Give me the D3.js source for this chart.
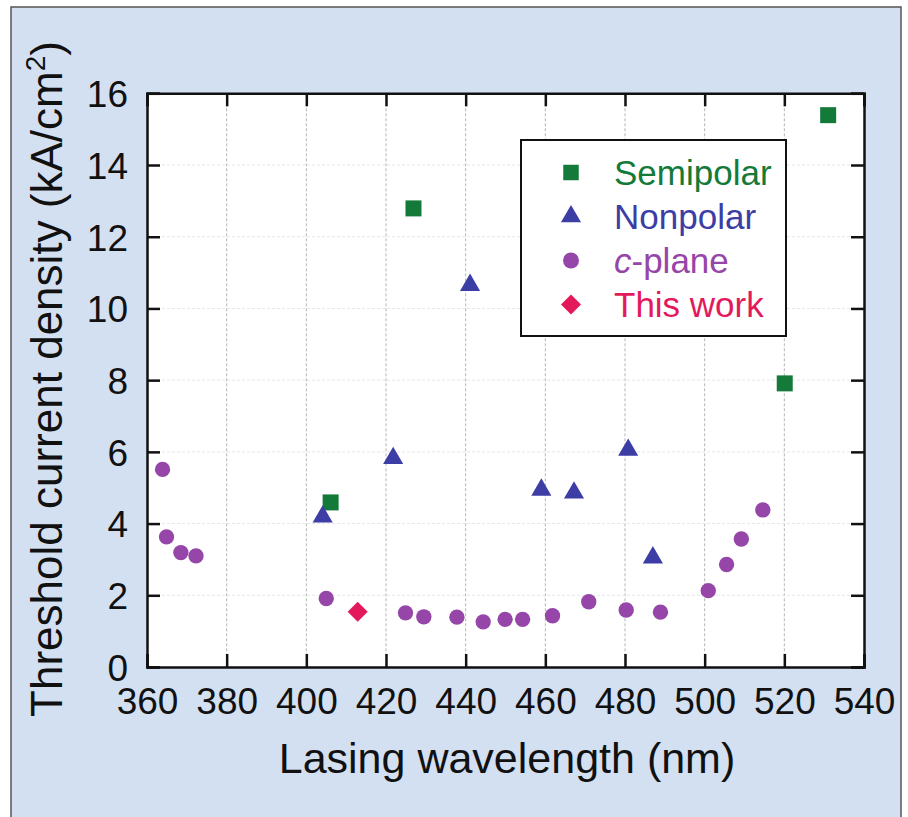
<!DOCTYPE html>
<html><head><meta charset="utf-8">
<script src="https://cdn.jsdelivr.net/npm/d3@7"></script>
<style>
html,body{margin:0;padding:0;background:#fff;}
svg{display:block;font-family:"Liberation Sans",Arial,sans-serif;}
</style></head>
<body><svg id="chart" width="908" height="817"></svg>
<script>
// ---- data ----
const xTicks = [360,380,400,420,440,460,480,500,520,540];
const yTicks = [0,2,4,6,8,10,12,14,16];
const semipolarX = [406.1, 426.9, 520.1, 531.0];
const semipolarY = [4.59, 12.79, 7.91, 15.39];
const nonpolarX = [404.1, 421.8, 441.1, 459.0, 467.2, 480.8, 487.0];
const nonpolarY = [4.19, 5.82, 10.65, 4.94, 4.86, 6.05, 3.05];
const cplaneX = [363.9, 364.9, 368.5, 372.3, 405.0, 424.9, 429.5, 437.8, 444.4, 449.9, 454.3, 461.8, 470.9, 480.3, 488.9, 500.9, 505.5, 509.2, 514.6];
const cplaneY = [5.51, 3.63, 3.19, 3.10, 1.91, 1.51, 1.40, 1.39, 1.26, 1.33, 1.33, 1.43, 1.82, 1.59, 1.53, 2.13, 2.86, 3.57, 4.38];
const thisWorkX = [412.9];
const thisWorkY = [1.54];
const legendLabels = ["Semipolar","Nonpolar","c-plane","This work"];

const colors = {semi:"#137a3a", non:"#3d3da6", c:"#9646a8", tw:"#e3195c"};

const svg = d3.select("#chart");
// panel background
svg.append("rect").attr("x",11).attr("y",7).attr("width",890).attr("height",830)
  .attr("fill","#d3e0f1").attr("stroke","#555").attr("stroke-width",1.5);

const L=147, R=864, T=93.3, B=667;
const x = d3.scaleLinear().domain([360,540]).range([L,R]);
const y = d3.scaleLinear().domain([0,16]).range([B,T]);

svg.append("rect").attr("x",L).attr("y",T).attr("width",R-L).attr("height",B-T).attr("fill","#fff");

// grid
const g = svg.append("g");
g.selectAll("line.vg").data(xTicks.slice(1,-1)).join("line")
  .attr("x1",d=>x(d)).attr("x2",d=>x(d)).attr("y1",T).attr("y2",B)
  .attr("stroke","#b5b5b5").attr("stroke-width",1).attr("stroke-dasharray","3,2");
g.selectAll("line.hg").data(yTicks.slice(1,-1)).join("line")
  .attr("x1",L).attr("x2",R).attr("y1",d=>y(d)).attr("y2",d=>y(d))
  .attr("stroke","#e6e6e6").attr("stroke-width",1).attr("stroke-dasharray","3,2");

// axes (ticks inward)
const tickLen = 13;
const axB = d3.axisBottom(x).tickValues(xTicks).tickSize(-tickLen).tickPadding(20).tickFormat(d3.format("d"));
const axT = d3.axisTop(x).tickValues(xTicks).tickSize(-tickLen).tickFormat("");
const axL = d3.axisLeft(y).tickValues(yTicks).tickSize(-tickLen).tickPadding(19).tickFormat(d3.format("d"));
const axR = d3.axisRight(y).tickValues(yTicks).tickSize(-tickLen).tickFormat("");
function style(sel){
  sel.select(".domain").attr("stroke","#111").attr("stroke-width",2.5);
  sel.selectAll(".tick line").attr("stroke","#111").attr("stroke-width",2.5);
  sel.selectAll(".tick text").attr("fill","#111").style("font-size","37px").style("font-family","'Liberation Sans',Arial,sans-serif");
}
svg.append("g").attr("transform",`translate(0,${B})`).call(axB).call(style)
  .selectAll(".tick text").attr("y",20).attr("dy","0.72em");
svg.append("g").attr("transform",`translate(0,${T})`).call(axT).call(style);
svg.append("g").attr("transform",`translate(${L},0)`).call(axL).call(style)
  .selectAll(".tick text").attr("dy","0.36em");
svg.append("g").attr("transform",`translate(${R},0)`).call(axR).call(style);

// axis titles
svg.append("text").attr("x",507).attr("y",773).attr("text-anchor","middle")
  .style("font-size","43px").attr("fill","#111").text("Lasing wavelength (nm)");
const yt = svg.append("text").attr("transform","translate(62,379) rotate(-90)").attr("text-anchor","middle")
  .style("font-size","44px").attr("fill","#111");
yt.append("tspan").text("Threshold current density (kA/cm");
yt.append("tspan").attr("dy","-17").style("font-size","28px").text("2");
yt.append("tspan").attr("dy","17").text(")");

// markers
const diamond = { draw(ctx, size){ const r = Math.sqrt(size/2); ctx.moveTo(0,-r); ctx.lineTo(r,0); ctx.lineTo(0,r); ctx.lineTo(-r,0); ctx.closePath(); } };
const sym = {
  semi: d3.symbol().type(d3.symbolSquare).size(256),
  non: d3.symbol().type(d3.symbolTriangle).size(175),
  c: d3.symbol().type(d3.symbolCircle).size(185),
  tw: d3.symbol().type(diamond).size(200)
};
function plot(xs, ys, key){
  svg.append("g").selectAll("path").data(xs.map((v,i)=>[v,ys[i]])).join("path")
    .attr("d", sym[key]()).attr("fill", colors[key])
    .attr("transform", d=>`translate(${x(d[0])},${y(d[1])})`);
}
plot(cplaneX, cplaneY, "c");
plot(semipolarX, semipolarY, "semi");
plot(nonpolarX, nonpolarY, "non");
plot(thisWorkX, thisWorkY, "tw");

// legend
const lg = svg.append("g");
lg.append("rect").attr("x",521).attr("y",140).attr("width",265).attr("height",196)
  .attr("fill","#fff").attr("stroke","#111").attr("stroke-width",2);
const keys = ["semi","non","c","tw"];
const lsym = {
  semi: d3.symbol().type(d3.symbolSquare).size(240),
  non: d3.symbol().type(d3.symbolTriangle).size(175),
  c: d3.symbol().type(d3.symbolCircle).size(200),
  tw: d3.symbol().type(diamond).size(200)
};
keys.forEach((k,i)=>{
  const cy = 172.5 + i*44;
  lg.append("path").attr("d", lsym[k]()).attr("fill", colors[k])
    .attr("transform", `translate(571,${cy})`);
  const t = lg.append("text").attr("x",614).attr("y",cy).attr("dy","0.36em")
    .style("font-size","35px").attr("fill",colors[k]);
  if(k==="c"){
    t.append("tspan").style("font-style","italic").text("c");
    t.append("tspan").text("-plane");
  } else t.text(legendLabels[i]);
});
</script></body></html>
